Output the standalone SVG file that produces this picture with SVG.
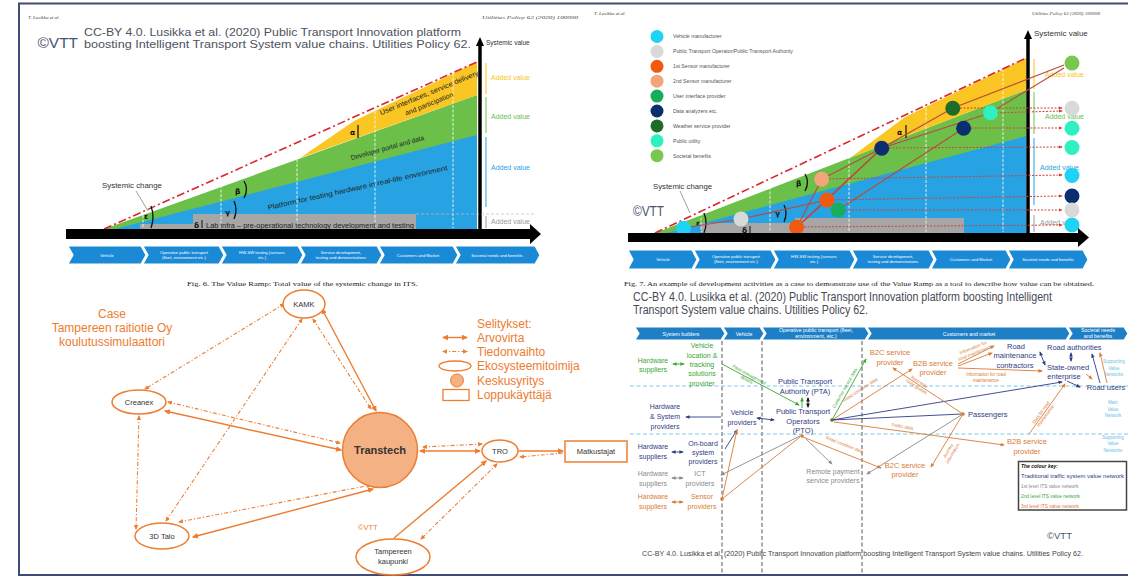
<svg xmlns="http://www.w3.org/2000/svg" width="1128" height="577" viewBox="0 0 1128 577">
<defs>
<style>
text{font-family:"Liberation Sans",Arial,sans-serif}
.hdr{font-family:"Liberation Serif",serif;font-style:italic;font-size:5px;fill:#444}
.cap{font-family:"Liberation Serif",serif;font-size:7px;fill:#222}
.ttl{font-size:11.5px;fill:#4d5260}
.vtt{fill:#4a5470}
.chev{fill:#1a8ad6;stroke:#fff;stroke-width:1.2}
.chev2{fill:#1e7fc6;stroke:#fff;stroke-width:1.2}
.ct{font-size:4.2px;fill:#fff;text-anchor:middle}
.ct2{font-size:5.2px;fill:#fff;text-anchor:middle}
.rt{font-size:7px;fill:#222}
.gk{font-size:7.5px;fill:#111;font-weight:bold;font-family:"DejaVu Sans",sans-serif}
.av{font-size:7px}
.lg{font-size:5.2px;fill:#555}
.rl{stroke:#b94a3c;stroke-width:1.1;fill:none}
.rd{stroke:#d0403a;stroke-width:1;stroke-dasharray:2 1.5;fill:none}
.os{stroke:#ed7d31;stroke-width:1.4;fill:none}
.od{stroke:#ed7d31;stroke-width:1.1;fill:none;stroke-dasharray:4 2 1.2 2}
.nd{fill:#fff;stroke:#ed7d31;stroke-width:1.5}
.nt{font-size:7.5px;fill:#333;text-anchor:middle}
.lgo{font-size:12px;fill:#ed7d31}
.nv{fill:#2f3c85}
.gr{fill:#3aa635}
.gy{fill:#8a8a8a}
.or2{fill:#d97b35}
.lb{fill:#6cc0e6}
.t7{font-size:7px;text-anchor:middle}
.t75{font-size:7.5px;text-anchor:middle}
.sl{font-size:4.5px;text-anchor:middle}
.ln{stroke-width:0.9;fill:none}
.snv{stroke:#2f3c85}
.sgy{stroke:#8a8a8a}
.sgr{stroke:#3aa635}
.sor{stroke:#d97b35}
.sk{stroke:#111}
.vd{stroke:#555;stroke-width:1;stroke-dasharray:4 2.5}
.hd{stroke:#7cc8ea;stroke-width:1;stroke-dasharray:4 2.5}
.wl{stroke:#fff;stroke-width:0.8;stroke-dasharray:3 1.5}
</style>
<marker id="mO" viewBox="0 0 10 10" refX="8" refY="5" markerWidth="4.5" markerHeight="4.5" orient="auto-start-reverse"><path d="M0,0.5 L10,5 L0,9.5z" fill="#ed7d31"/></marker>
<marker id="mN" viewBox="0 0 10 10" refX="8" refY="5" markerWidth="5" markerHeight="5" orient="auto-start-reverse"><path d="M0,1 L10,5 L0,9z" fill="#2f3c85"/></marker>
<marker id="mG" viewBox="0 0 10 10" refX="8" refY="5" markerWidth="5" markerHeight="5" orient="auto-start-reverse"><path d="M0,1 L10,5 L0,9z" fill="#8a8a8a"/></marker>
<marker id="mGr" viewBox="0 0 10 10" refX="8" refY="5" markerWidth="5" markerHeight="5" orient="auto-start-reverse"><path d="M0,1 L10,5 L0,9z" fill="#3aa635"/></marker>
<marker id="mOr" viewBox="0 0 10 10" refX="8" refY="5" markerWidth="5" markerHeight="5" orient="auto-start-reverse"><path d="M0,1 L10,5 L0,9z" fill="#d97b35"/></marker>
<marker id="mK" viewBox="0 0 10 10" refX="8" refY="5" markerWidth="5" markerHeight="5" orient="auto-start-reverse"><path d="M0,1 L10,5 L0,9z" fill="#111"/></marker>
<marker id="mR" viewBox="0 0 10 10" refX="8" refY="5" markerWidth="4" markerHeight="4" orient="auto-start-reverse"><path d="M0,1 L10,5 L0,9z" fill="#d0403a"/></marker>
</defs>
<rect width="1128" height="577" fill="#fff"/>
<path d="M1130,3.5 H19 V575 H1130" fill="none" stroke="#3f4b78" stroke-width="2"/>

<!-- ================= FIG 6 ================= -->
<g id="fig6">
<text class="hdr" x="28" y="19">T. Lusikka et al.</text>
<text class="hdr" x="482" y="19" textLength="96" lengthAdjust="spacingAndGlyphs">Utilities Policy 62 (2020) 100990</text>
<text class="vtt" x="37.5" y="48" font-size="15" textLength="40.5" lengthAdjust="spacingAndGlyphs">©VTT</text>
<text class="ttl" x="84" y="35.5" textLength="377" lengthAdjust="spacingAndGlyphs">CC-BY 4.0.  Lusikka et al. (2020) Public Transport Innovation platform</text>
<text class="ttl" x="84" y="47.8" textLength="387" lengthAdjust="spacingAndGlyphs">boosting Intelligent Transport System value chains. Utilities Policy 62.</text>
<polygon points="104,229 477,95 477,229" fill="#6cc04a"/>
<polygon points="115,229 477,135 477,229" fill="#27a3e3"/>
<polygon points="300,158 354,121 477,62 477,95" fill="#f9c623"/>
<polygon points="140,229 140,224 193,224 193,214 416,214 416,229" fill="#a6a6a6"/>
<g class="wl"><line x1="143" y1="170" x2="143" y2="228"/><line x1="221" y1="140" x2="221" y2="228"/><line x1="297" y1="110" x2="297" y2="228"/><line x1="375" y1="80" x2="375" y2="228"/><line x1="453" y1="60" x2="453" y2="228"/></g>
<line x1="104" y1="229" x2="477" y2="62" stroke="#d9262c" stroke-width="1.6" stroke-dasharray="8 3 2 3"/>
<text class="rt" transform="translate(430,95) rotate(-22.5)" text-anchor="middle" textLength="106" lengthAdjust="spacingAndGlyphs">User interfaces, service delivery</text>
<text class="rt" transform="translate(430,106) rotate(-22)" text-anchor="middle">and participation</text>
<text class="rt" transform="translate(388,150) rotate(-15.5)" text-anchor="middle" textLength="76" lengthAdjust="spacingAndGlyphs">Developer portal and data</text>
<text class="rt" transform="translate(358,190) rotate(-12.5)" text-anchor="middle" textLength="184" lengthAdjust="spacingAndGlyphs">Platform for testing hardware in real-life environment</text>
<text class="gk" x="194" y="228">δ</text>
<line x1="202" y1="220" x2="202" y2="228" stroke="#111" stroke-width="1"/>
<text class="rt" x="206" y="227.5" font-size="6.5" textLength="208" lengthAdjust="spacingAndGlyphs">Lab infra – pre-operational technology development and testing</text>
<text class="gk" x="350" y="135">α</text>
<line x1="358" y1="125" x2="358" y2="138" stroke="#111" stroke-width="1.2"/>
<text class="gk" x="235" y="194">β</text>
<path d="M244,181 Q249,189 244,198" stroke="#111" stroke-width="1.3" fill="none"/>
<text class="gk" x="225" y="215">γ</text>
<path d="M234,201 Q238,210 234,219" stroke="#111" stroke-width="1.3" fill="none"/>
<text class="gk" x="144" y="219">ε</text>
<path d="M151,206 Q155,217 151,228" stroke="#111" stroke-width="1.3" fill="none"/>
<text x="102" y="188" font-size="8" fill="#333" textLength="60" lengthAdjust="spacingAndGlyphs">Systemic change</text>
<line x1="136" y1="191" x2="148" y2="211" stroke="#888" stroke-width="0.8"/>
<line x1="480" y1="235" x2="480" y2="44" stroke="#000" stroke-width="3.5"/>
<polygon points="480,37 476,46 484,46" fill="#000"/>
<text x="486" y="45" font-size="6.5" fill="#333">Systemic value</text>
<line x1="486" y1="63" x2="486" y2="94" stroke="#f5c518" stroke-width="1"/>
<line x1="486" y1="97" x2="486" y2="133" stroke="#6cc04a" stroke-width="1"/>
<line x1="486" y1="137" x2="486" y2="207" stroke="#27a3e3" stroke-width="1"/>
<line x1="486" y1="216" x2="486" y2="228" stroke="#999" stroke-width="1"/>
<line x1="416" y1="214" x2="535" y2="214" stroke="#bbb" stroke-width="0.7" stroke-dasharray="3 2"/>
<text class="av" x="491" y="80" fill="#f5c518">Added value</text>
<text class="av" x="491" y="119" fill="#6cc04a">Added value</text>
<text class="av" x="491" y="169.5" fill="#27a3e3">Added value</text>
<text class="av" x="491" y="223.5" fill="#999">Added value</text>
<rect x="66" y="229" width="466" height="10" fill="#000"/>
<polygon points="530,224 541,234 530,244" fill="#000"/>
<polygon class="chev" points="68,246 141,246 146,255 141,264 68,264 73,255"/>
<polygon class="chev" points="143,246 219,246 224,255 219,264 143,264 148,255"/>
<polygon class="chev" points="221,246 298,246 303,255 298,264 221,264 226,255"/>
<polygon class="chev" points="300,246 377,246 382,255 377,264 300,264 305,255"/>
<polygon class="chev" points="379,246 453,246 458,255 453,264 379,264 384,255"/>
<polygon class="chev" points="455,246 535,246 540,255 535,264 455,264 460,255"/>
<text class="ct" x="107" y="256.5">Vehicle</text>
<text class="ct" x="184" y="253.5">Operative public transport</text><text class="ct" x="184" y="259">(fleet, environment etc.)</text>
<text class="ct" x="262" y="253.5">HW-SW testing (sensors</text><text class="ct" x="262" y="259">etc.)</text>
<text class="ct" x="341" y="253.5">Service development,</text><text class="ct" x="341" y="259">testing and demonstrations</text>
<text class="ct" x="418" y="256.5">Customers and Market</text>
<text class="ct" x="497" y="256.5">Societal needs and benefits</text>
<text class="cap" x="187" y="285.5" textLength="231" lengthAdjust="spacingAndGlyphs">Fig. 6.  The Value Ramp: Total value of the systemic change in ITS.</text>
</g>

<!-- ================= FIG 7 ================= -->
<g id="fig7">
<text class="hdr" x="594" y="15">T. Lusikka et al.</text>
<text class="hdr" x="1032" y="15" textLength="68" lengthAdjust="spacingAndGlyphs">Utilities Policy 62 (2020) 100990</text>
<g id="fig7-legend">
<circle cx="657" cy="36.5" r="6.5" fill="#1fd3f5"/><text class="lg" x="673" y="38.3">Vehicle manufacturer</text>
<circle cx="657" cy="51.4" r="6.5" fill="#d9d9d9"/><text class="lg" x="673" y="53.2">Public Transport Operator/Public Transport Authority</text>
<circle cx="657" cy="66.3" r="6.5" fill="#f05a10"/><text class="lg" x="673" y="68.1">1st Sensor manufacturer</text>
<circle cx="657" cy="81.2" r="6.5" fill="#f4a47a"/><text class="lg" x="673" y="83">2nd Sensor manufacturer</text>
<circle cx="657" cy="96.1" r="6.5" fill="#17ad5c"/><text class="lg" x="673" y="97.9">User interface provider</text>
<circle cx="657" cy="111" r="6.5" fill="#0b2f6e"/><text class="lg" x="673" y="112.8">Data analyzers etc.</text>
<circle cx="657" cy="125.9" r="6.5" fill="#1f6b2a"/><text class="lg" x="673" y="127.7">Weather service provider</text>
<circle cx="657" cy="140.8" r="6.5" fill="#2ef0c0"/><text class="lg" x="673" y="142.6">Public utility</text>
<circle cx="657" cy="155.7" r="6.5" fill="#78c850"/><text class="lg" x="673" y="157.5">Societal benefits</text>
</g>
<polygon points="655,233 1026,90 1026,233" fill="#6cc04a"/>
<polygon points="667,233 1026,136 1026,233" fill="#27a3e3"/>
<polygon points="850,158 905,117 1026,58 1026,90" fill="#f9c623"/>
<polygon points="701,233 701,223 795,223 795,218 964,218 964,233" fill="#a6a6a6"/>
<g class="wl"><line x1="701" y1="195" x2="701" y2="232"/><line x1="770" y1="160" x2="770" y2="232"/><line x1="849" y1="120" x2="849" y2="232"/><line x1="926" y1="90" x2="926" y2="232"/><line x1="1003" y1="60" x2="1003" y2="232"/></g>
<line x1="655" y1="233" x2="1026" y2="58" stroke="#d9262c" stroke-width="1.6" stroke-dasharray="8 3 2 3"/>
<text class="gk" x="897" y="135">α</text>
<line x1="906" y1="125" x2="906" y2="138" stroke="#111" stroke-width="1.2"/>
<text class="gk" x="796" y="186">β</text>
<path d="M805,174 Q810,182 805,191" stroke="#111" stroke-width="1.3" fill="none"/>
<text class="gk" x="775" y="216">γ</text>
<path d="M784,205 Q788,213 784,222" stroke="#111" stroke-width="1.3" fill="none"/>
<text class="gk" x="696" y="226">ε</text>
<path d="M704,213 Q708,223 704,233" stroke="#111" stroke-width="1.3" fill="none"/>
<text class="gk" x="742" y="233">δ</text>
<line x1="750" y1="226" x2="750" y2="234" stroke="#111" stroke-width="1"/>
<text x="653" y="188.5" font-size="8" fill="#333" textLength="59" lengthAdjust="spacingAndGlyphs">Systemic change</text>
<line x1="680" y1="191" x2="690" y2="213" stroke="#888" stroke-width="0.8"/>
<text class="vtt" x="633" y="216" font-size="14" textLength="31" lengthAdjust="spacingAndGlyphs">©VTT</text>
<line x1="1028" y1="240" x2="1028" y2="37" stroke="#000" stroke-width="3.5"/>
<polygon points="1028,30 1024,39 1032,39" fill="#000"/>
<text x="1034" y="36" font-size="8" fill="#333">Systemic value</text>
<line x1="1034" y1="59" x2="1034" y2="89" stroke="#f5c518" stroke-width="1"/>
<line x1="1034" y1="92" x2="1034" y2="134" stroke="#6cc04a" stroke-width="1"/>
<line x1="1034" y1="138" x2="1034" y2="205" stroke="#27a3e3" stroke-width="1"/>
<line x1="1034" y1="215" x2="1034" y2="232" stroke="#999" stroke-width="1"/>
<text class="av" x="1045" y="77" fill="#f5c518">Added value</text>
<text class="av" x="1045" y="119" fill="#6cc04a">Added value</text>
<text class="av" x="1040" y="170" fill="#27a3e3">Added value</text>
<text class="av" x="1040" y="225" fill="#999">Added value</text>
<g class="rl">
<polyline points="683,228 741,219 827,200 882,148 953,108"/>
<line x1="797" y1="227" x2="827" y2="200"/>
<line x1="797" y1="227" x2="822" y2="179"/>
<line x1="797" y1="227" x2="882" y2="148"/>
<line x1="822" y1="179" x2="882" y2="148"/>
<line x1="838" y1="210" x2="964" y2="128"/>
<line x1="882" y1="148" x2="990" y2="113"/>
<line x1="953" y1="108" x2="1064" y2="65"/>
<line x1="990" y1="113" x2="1064" y2="68"/>
</g>
<g class="rd">
<line x1="822" y1="179" x2="1062" y2="175" marker-end="url(#mR)"/>
<line x1="827" y1="200" x2="1062" y2="196" marker-end="url(#mR)"/>
<line x1="838" y1="210" x2="1062" y2="210" marker-end="url(#mR)"/>
<line x1="797" y1="227" x2="1062" y2="225" marker-end="url(#mR)"/>
<line x1="882" y1="148" x2="1062" y2="147" marker-end="url(#mR)"/>
<line x1="964" y1="128" x2="1062" y2="128" marker-end="url(#mR)"/>
<line x1="953" y1="108" x2="1062" y2="108" marker-end="url(#mR)"/>
<line x1="990" y1="113" x2="1062" y2="111" marker-end="url(#mR)"/>
</g>
<g id="fig7-ramp-dots">
<circle cx="683.5" cy="228.3" r="7.5" fill="#1fd3f5"/>
<circle cx="741" cy="219" r="7.5" fill="#d9d9d9"/>
<circle cx="796.6" cy="227.3" r="7.5" fill="#f05a10"/>
<circle cx="827" cy="200" r="7.5" fill="#f05a10"/>
<circle cx="838" cy="210" r="7.5" fill="#17ad5c"/>
<circle cx="821.7" cy="179.3" r="7.5" fill="#f4a47a"/>
<circle cx="881.7" cy="148.3" r="7.5" fill="#0b2f6e"/>
<circle cx="952.8" cy="108.3" r="7.5" fill="#1f6b2a"/>
<circle cx="990.5" cy="112.7" r="7.5" fill="#2ef0c0"/>
<circle cx="963.6" cy="128.3" r="7.5" fill="#0b2f6e"/>
</g>
<g id="fig7-value-dots">
<circle cx="1072" cy="63" r="7.5" fill="#78c850"/>
<circle cx="1072" cy="108.3" r="7.5" fill="#d9d9d9"/>
<circle cx="1072" cy="128.3" r="7.5" fill="#2ef0c0"/>
<circle cx="1072" cy="147.5" r="7.5" fill="#2ef0c0"/>
<circle cx="1072" cy="175.5" r="7.5" fill="#1fd3f5"/>
<circle cx="1072" cy="196" r="7.5" fill="#0b2f6e"/>
<circle cx="1072" cy="210" r="7.5" fill="#d9d9d9"/>
<circle cx="1072" cy="225" r="7.5" fill="#1fd3f5"/>
</g>
<rect x="628" y="233" width="451" height="9" fill="#000"/>
<polygon points="1078,228 1089,237.5 1078,247" fill="#000"/>
<polygon class="chev" points="628,250 692,250 697,259.5 692,269 628,269 633,259.5"/>
<polygon class="chev" points="694,250 771,250 776,259.5 771,269 694,269 699,259.5"/>
<polygon class="chev" points="773,250 850,250 855,259.5 850,269 773,269 778,259.5"/>
<polygon class="chev" points="852,250 929,250 934,259.5 929,269 852,269 857,259.5"/>
<polygon class="chev" points="931,250 1006,250 1011,259.5 1006,269 931,269 936,259.5"/>
<polygon class="chev" points="1008,250 1083,250 1088,259.5 1083,269 1008,269 1013,259.5"/>
<text class="ct" x="663" y="261">Vehicle</text>
<text class="ct" x="736" y="257.5">Operative public transport</text><text class="ct" x="736" y="263">(fleet, environment etc.)</text>
<text class="ct" x="814" y="257.5">HW-SW testing (sensors</text><text class="ct" x="814" y="263">etc.)</text>
<text class="ct" x="893" y="257.5">Service development,</text><text class="ct" x="893" y="263">testing and demonstrations</text>
<text class="ct" x="971" y="261">Customers and Market</text>
<text class="ct" x="1048" y="261">Societal needs and benefits</text>
<text class="cap" x="624" y="285.5" textLength="470" lengthAdjust="spacingAndGlyphs">Fig. 7.  An example of development activities as a case to demonstrate use of the Value Ramp as a tool to describe how value can be obtained.</text>
</g>

<!-- ================= CASE (bottom-left) ================= -->
<g id="case-title">
<text class="lgo" x="112" y="318" text-anchor="middle">Case</text>
<text class="lgo" x="112" y="332" text-anchor="middle">Tampereen raitiotie Oy</text>
<text class="lgo" x="112" y="346" text-anchor="middle">koulutussimulaattori</text>
</g>
<g id="case-connectors">
<line class="os" x1="322" y1="309" x2="376" y2="411" marker-start="url(#mO)" marker-end="url(#mO)"/>
<line class="os" x1="165" y1="411" x2="341" y2="450" marker-start="url(#mO)" marker-end="url(#mO)"/>
<line class="os" x1="193" y1="537" x2="373" y2="489" marker-start="url(#mO)" marker-end="url(#mO)"/>
<line class="os" x1="420" y1="451" x2="480" y2="451" marker-start="url(#mO)" marker-end="url(#mO)"/>
<line class="os" x1="519" y1="451" x2="563" y2="451" marker-end="url(#mO)"/>
<line class="os" x1="394" y1="538" x2="486" y2="461" marker-end="url(#mO)"/>
<line class="od" x1="284" y1="304" x2="145" y2="389" marker-start="url(#mO)" marker-end="url(#mO)"/>
<line class="od" x1="302" y1="319" x2="166" y2="521" marker-start="url(#mO)" marker-end="url(#mO)"/>
<line class="od" x1="313" y1="319" x2="371" y2="409" marker-start="url(#mO)" marker-end="url(#mO)"/>
<line class="od" x1="139" y1="416" x2="136" y2="529" marker-start="url(#mO)" marker-end="url(#mO)"/>
<line class="od" x1="168" y1="402" x2="340" y2="443" marker-start="url(#mO)" marker-end="url(#mO)"/>
<line class="od" x1="179" y1="522" x2="371" y2="485" marker-start="url(#mO)" marker-end="url(#mO)"/>
<line class="od" x1="423" y1="447" x2="482" y2="444" marker-start="url(#mO)" marker-end="url(#mO)"/>
<line class="od" x1="563" y1="453" x2="520" y2="457" marker-end="url(#mO)"/>
<line class="od" x1="497" y1="464" x2="421" y2="539" marker-start="url(#mO)" marker-end="url(#mO)"/>
</g>
<g id="node-kamk"><ellipse class="nd" cx="304" cy="304" rx="21" ry="14"/><text class="nt" x="304" y="306.5">KAMK</text></g>
<g id="node-creanex"><ellipse class="nd" cx="139" cy="402" rx="27" ry="12"/><text class="nt" x="139" y="404.5">Creanex</text></g>
<g id="node-3dtalo"><ellipse class="nd" cx="162" cy="536" rx="27" ry="13"/><text class="nt" x="162" y="539" font-size="8">3D Talo</text></g>
<g id="node-transtech"><circle cx="380" cy="450" r="37.5" fill="#f4b183" stroke="#ed7d31" stroke-width="1.5"/><text x="380" y="454" font-size="11" font-weight="bold" fill="#333" text-anchor="middle">Transtech</text></g>
<g id="node-tro"><ellipse class="nd" cx="500" cy="451" rx="18" ry="11"/><text class="nt" x="500" y="454">TRO</text></g>
<g id="node-matkustajat"><rect x="565" y="441" width="62" height="21" fill="#fff" stroke="#ed7d31" stroke-width="1.5"/><text class="nt" x="596" y="454" font-size="7">Matkustajat</text></g>
<g id="node-tampere"><ellipse class="nd" cx="393" cy="557" rx="37" ry="18"/><text class="nt" x="393" y="554">Tampereen</text><text class="nt" x="393" y="564">kaupunki</text></g>
<g id="case-legend">
<text class="lgo" x="477" y="327.5">Selitykset:</text>
<line class="os" x1="443" y1="337.5" x2="467" y2="337.5" marker-start="url(#mO)" marker-end="url(#mO)"/>
<text class="lgo" x="477" y="341.5">Arvovirta</text>
<line class="od" x1="443" y1="351.5" x2="467" y2="351.5" marker-start="url(#mO)" marker-end="url(#mO)"/>
<text class="lgo" x="477" y="355.5">Tiedonvaihto</text>
<ellipse cx="455" cy="366" rx="16" ry="5" fill="none" stroke="#ed7d31" stroke-width="1.3"/>
<text class="lgo" x="477" y="370">Ekosysteemitoimija</text>
<circle cx="457" cy="380.5" r="6.5" fill="#f4b183" stroke="#ed7d31" stroke-width="1"/>
<text class="lgo" x="477" y="384.5">Keskusyritys</text>
<rect x="443" y="389.5" width="26" height="11" fill="none" stroke="#ed7d31" stroke-width="1.3"/>
<text class="lgo" x="477" y="399">Loppukäyttäjä</text>
</g>
<text x="358" y="530" font-size="7.5" fill="#ed7d31">©VTT</text>

<!-- ================= ITS value network (bottom-right) ================= -->
<g id="net-title">
<text x="633" y="300.5" font-size="12.5" fill="#454a55" textLength="419" lengthAdjust="spacingAndGlyphs">CC-BY 4.0.  Lusikka et al. (2020) Public Transport Innovation platform boosting Intelligent</text>
<text x="633" y="314" font-size="12.5" fill="#454a55" textLength="235" lengthAdjust="spacingAndGlyphs">Transport System value chains. Utilities Policy 62.</text>
</g>
<g id="net-header">
<polygon class="chev2" points="635,327 721,327 725,333.5 721,340 635,340 639,333.5"/>
<polygon class="chev2" points="723,327 760,327 764,333.5 760,340 723,340 727,333.5"/>
<polygon class="chev2" points="762,327 865,327 869,333.5 865,340 762,340 766,333.5"/>
<polygon class="chev2" points="867,327 1066,327 1070,333.5 1066,340 867,340 871,333.5"/>
<polygon class="chev2" points="1068,327 1124,327 1128,333.5 1124,340 1068,340 1072,333.5"/>
<text class="ct2" x="681" y="335.5">System builders</text>
<text class="ct2" x="744" y="335.5">Vehicle</text>
<text class="ct2" x="816" y="332" font-size="4.8">Operative public transport (fleet,</text>
<text class="ct2" x="816" y="338.3" font-size="4.8">environment, etc.)</text>
<text class="ct2" x="969" y="335.5">Customers and market</text>
<text class="ct2" x="1098" y="332" font-size="4.8">Societal needs</text>
<text class="ct2" x="1098" y="338.3" font-size="4.8">and benefits</text>
</g>
<g id="net-grid">
<line class="vd" x1="722" y1="341" x2="722" y2="575"/>
<line class="vd" x1="762" y1="341" x2="762" y2="575"/>
<line class="vd" x1="862" y1="341" x2="862" y2="575"/>
<line class="hd" x1="630" y1="386" x2="1128" y2="386"/>
<line class="hd" x1="630" y1="434" x2="1128" y2="434"/>
</g>
<g id="net-connectors">
<line class="ln sgr" x1="673" y1="364" x2="684" y2="364" marker-start="url(#mGr)" marker-end="url(#mGr)"/>
<line class="ln snv" x1="672" y1="452" x2="683" y2="452" marker-start="url(#mN)" marker-end="url(#mN)"/>
<line class="ln sgy" x1="672" y1="478" x2="683" y2="478" marker-start="url(#mG)" marker-end="url(#mG)"/>
<line class="ln sor" x1="672" y1="502" x2="683" y2="502" marker-start="url(#mOr)" marker-end="url(#mOr)"/>
<line class="ln sgr" x1="722" y1="364" x2="799" y2="405" marker-end="url(#mGr)"/>
<line class="ln sgr" x1="802" y1="408" x2="802" y2="398" marker-end="url(#mGr)"/>
<line class="ln sk" x1="808" y1="398" x2="808" y2="407" marker-start="url(#mK)" marker-end="url(#mK)"/>
<line class="ln snv" x1="721" y1="417" x2="686" y2="417" marker-end="url(#mN)"/>
<line class="ln snv" x1="757" y1="418" x2="774" y2="420" marker-start="url(#mN)" marker-end="url(#mN)"/>
<line class="ln snv" x1="725" y1="449" x2="737" y2="430" marker-end="url(#mN)"/>
<line class="ln sor" x1="722" y1="499" x2="737" y2="430" marker-end="url(#mOr)"/>
<line class="ln sgy" x1="800" y1="436" x2="721" y2="475" marker-end="url(#mG)"/>
<line class="ln sor" x1="722" y1="499" x2="800" y2="437"/>
<line class="ln sgy" x1="806" y1="439" x2="832" y2="464" marker-end="url(#mG)"/>
<line class="ln sor" x1="803" y1="437" x2="881" y2="468" marker-end="url(#mOr)"/>
<line class="ln sgr" x1="832" y1="420" x2="866" y2="359" marker-end="url(#mGr)"/>
<line class="ln sor" x1="832" y1="420" x2="912" y2="369" marker-end="url(#mOr)"/>
<line class="ln snv" x1="832" y1="420" x2="1062" y2="382" marker-end="url(#mN)"/>
<line class="ln snv" x1="832" y1="420" x2="962" y2="414"/>
<line class="ln sor" x1="834" y1="422" x2="1004" y2="445" marker-end="url(#mOr)"/>
<line class="ln sor" x1="963" y1="414" x2="893" y2="368" marker-end="url(#mOr)"/>
<line class="ln sor" x1="963" y1="414" x2="931" y2="467" marker-end="url(#mOr)"/>
<line class="ln sgy" x1="963" y1="414" x2="867" y2="474" marker-end="url(#mG)"/>
<line class="ln sor" x1="958" y1="366" x2="992" y2="353" marker-end="url(#mOr)"/>
<line class="ln sor" x1="958" y1="364" x2="994" y2="346" marker-end="url(#mOr)"/>
<line class="ln sor" x1="958" y1="368" x2="1042" y2="371" marker-end="url(#mOr)"/>
<line class="ln snv" x1="1040" y1="352" x2="1045" y2="365" marker-start="url(#mN)" marker-end="url(#mN)"/>
<line class="ln snv" x1="1071" y1="353" x2="1071" y2="361" marker-start="url(#mN)" marker-end="url(#mN)"/>
<line class="ln snv" x1="1100" y1="383" x2="1092" y2="354" marker-end="url(#mN)"/>
<line class="ln sor" x1="1107" y1="383" x2="1100" y2="353" marker-end="url(#mOr)"/>
<line class="ln sor" x1="1086" y1="374" x2="1092" y2="379" marker-end="url(#mOr)"/>
<line class="ln snv" x1="1067" y1="381" x2="1080" y2="387" marker-end="url(#mN)"/>
<line class="ln sor" x1="1029" y1="434" x2="1065" y2="384" marker-end="url(#mOr)"/>
<circle cx="832" cy="420" r="1.8" fill="#3a7a35"/>
<circle cx="802" cy="436" r="1.8" fill="#d97b35"/>
<circle cx="963" cy="414" r="1.8" fill="#d97b35"/>
<circle cx="722" cy="499" r="1.8" fill="#d97b35"/>
</g>
<g id="net-edge-labels">
<g transform="translate(748,377) rotate(28)"><text class="sl gr" x="0" y="-1">Fleet management</text><text class="sl gr" x="0" y="4.5">details</text></g>
<text class="sl gr" transform="translate(846,389) rotate(-60)">Customer service data</text>
<text class="sl or2" transform="translate(861,391) rotate(-33)">Road condition data</text>
<text class="sl or2" transform="translate(844,446) rotate(21.5)">Road condition data</text>
<text class="sl or2" transform="translate(902,428) rotate(10)">Traffic data</text>
<g transform="translate(918,384) rotate(33)"><text class="sl or2" x="0" y="-1">Real-time</text><text class="sl or2" x="0" y="4.5">route guides</text></g>
<g transform="translate(950,452) rotate(-60)"><text class="sl or2" x="0" y="-1">Journey</text><text class="sl or2" x="0" y="4.5">information</text></g>
<g transform="translate(974,350) rotate(-22)"><text class="sl or2" x="0" y="-1">Information for</text><text class="sl or2" x="0" y="4.5">road maintenance</text></g>
<text class="sl or2" x="986" y="376">Information for road</text>
<text class="sl or2" x="986" y="381.5">maintenance</text>
<g transform="translate(1043,414) rotate(-54)"><text class="sl or2" x="0" y="-1">Data for road</text><text class="sl or2" x="0" y="4.5">maintenance</text></g>
</g>
<g id="n-hw-green"><text class="t7 gr" x="653" y="362.5">Hardware</text><text class="t7 gr" x="653" y="371.8">suppliers</text></g>
<g id="n-vehicle-location"><text class="t7 gr" x="702" y="348.2">Vehicle</text><text class="t7 gr" x="702" y="357.5">location &amp;</text><text class="t7 gr" x="702" y="366.8">tracking</text><text class="t7 gr" x="702" y="376.2">solutions</text><text class="t7 gr" x="702" y="386">provider</text></g>
<g id="n-pta"><text class="t75 nv" x="805" y="383.7">Public Transport</text><text class="t75 nv" x="805" y="393.7">Authority (PTA)</text></g>
<g id="n-pto"><text class="t75 nv" x="803" y="414.4">Public Transport</text><text class="t75 nv" x="803" y="423.7">Operators</text><text class="t75 nv" x="803" y="432.7">(PTO)</text></g>
<g id="n-hw-system"><text class="t7 nv" x="665" y="409.2">Hardware</text><text class="t7 nv" x="665" y="419.2">&amp; System</text><text class="t7 nv" x="665" y="429.2">providers</text></g>
<g id="n-vehicle-providers"><text class="t7 nv" x="742" y="415.2">Vehicle</text><text class="t7 nv" x="742" y="425.2">providers</text></g>
<g id="n-hw-navy"><text class="t7 nv" x="653" y="449.2">Hardware</text><text class="t7 nv" x="653" y="458.5">suppliers</text></g>
<g id="n-onboard"><text class="t7 nv" x="703" y="445.8">On-board</text><text class="t7 nv" x="703" y="455.2">system</text><text class="t7 nv" x="703" y="464.2">providers</text></g>
<g id="n-hw-gray"><text class="t7 gy" x="653" y="475.8">Hardware</text><text class="t7 gy" x="653" y="485.8">suppliers</text></g>
<g id="n-ict"><text class="t7 gy" x="700" y="475.8">ICT</text><text class="t7 gy" x="700" y="485.8">providers</text></g>
<g id="n-hw-orange"><text class="t7 or2" x="653" y="499.2">Hardware</text><text class="t7 or2" x="653" y="508.5">suppliers</text></g>
<g id="n-sensor"><text class="t7 or2" x="702" y="499.2">Sensor</text><text class="t7 or2" x="702" y="509.2">providers</text></g>
<g id="n-remote-payment"><text class="t7 gy" x="833" y="473.5">Remote payment</text><text class="t7 gy" x="833" y="482.5">service providers</text></g>
<g id="n-b2c-top"><text class="t75 or2" x="890" y="355.2">B2C service</text><text class="t75 or2" x="890" y="364.8">provider</text></g>
<g id="n-b2b-top"><text class="t75 or2" x="933" y="365.8">B2B service</text><text class="t75 or2" x="933" y="375.2">provider</text></g>
<g id="n-passengers"><text class="nv" x="968" y="416.7" font-size="7.5">Passengers</text></g>
<g id="n-road-maint"><text class="t75 nv" x="1016" y="348.5">Road</text><text class="t75 nv" x="1015" y="358.2">maintenance</text><text class="t75 nv" x="1015" y="367.5">contractors</text></g>
<g id="n-road-auth"><text class="nv" x="1047" y="349.8" font-size="7.5">Road authorities</text></g>
<g id="n-state"><text class="t75 nv" x="1068" y="369.8">State-owned</text><text class="t75 nv" x="1064" y="379.2">enterprise</text></g>
<g id="n-road-users"><text class="t75 nv" x="1106" y="390.2">Road users</text></g>
<g id="n-b2b-low"><text class="t75 or2" x="1027" y="444.2">B2B service</text><text class="t75 or2" x="1027" y="454.2">provider</text></g>
<g id="n-b2c-low"><text class="t75 or2" x="905" y="467.5">B2C service</text><text class="t75 or2" x="905" y="476.8">provider</text></g>
<g id="net-zones">
<text class="sl lb" x="1114" y="363" font-size="5">Supporting</text><text class="sl lb" x="1114" y="369.5" font-size="5">Value</text><text class="sl lb" x="1114" y="376" font-size="5">Networks</text>
<text class="sl lb" x="1113" y="404" font-size="5">Main</text><text class="sl lb" x="1113" y="410.5" font-size="5">Value</text><text class="sl lb" x="1113" y="417" font-size="5">Network</text>
<text class="sl lb" x="1113" y="438.5" font-size="5">Supporting</text><text class="sl lb" x="1113" y="445" font-size="5">Value</text><text class="sl lb" x="1113" y="451.5" font-size="5">Networks</text>
</g>
<g id="colour-key">
<rect x="1018.5" y="461.5" width="108" height="48.5" fill="#fff" stroke="#444" stroke-width="1.5"/>
<text x="1021" y="467.5" font-size="5" font-weight="bold" font-style="italic" fill="#111">The colour key:</text>
<text x="1021" y="477.5" font-size="4.8" class="nv" textLength="103" lengthAdjust="spacingAndGlyphs">Traditional  traffic  system  value  network</text>
<text x="1021" y="487.5" font-size="4.8" class="gy">1st level  ITS  value  network</text>
<text x="1021" y="497.8" font-size="4.8" class="gr">2nd level  ITS  value  network</text>
<text x="1021" y="507.8" font-size="4.8" class="or2">3rd level  ITS  value  network</text>
</g>
<text x="1047" y="538.5" font-size="9.5" class="vtt">©VTT</text>
<text x="642" y="555.5" font-size="7" fill="#444" textLength="441" lengthAdjust="spacingAndGlyphs">CC-BY 4.0. Lusikka et al. (2020) Public Transport Innovation platform boosting Intelligent Transport System value chains. Utilities Policy 62.</text>
</svg>
